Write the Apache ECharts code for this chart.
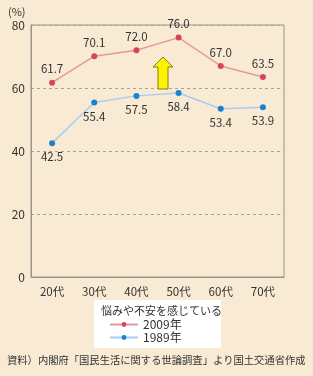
<!DOCTYPE html>
<html><head><meta charset="utf-8">
<script src="https://cdn.jsdelivr.net/npm/echarts@6/dist/echarts.min.js"></script>
<style>html,body{margin:0;padding:0;background:#F8EAD3;}#c{width:313px;height:376px;}</style>
</head><body><div id="c"></div>
<script>
const categories = ['20代','30代','40代','50代','60代','70代'];
const values2009 = [61.7, 70.1, 72.0, 76.0, 67.0, 63.5];
const values1989 = [42.5, 55.4, 57.5, 58.4, 53.4, 53.9];
const yTicks = [0, 20, 40, 60, 80];

const font = '"Noto Sans CJK JP", sans-serif';
const chart = echarts.init(document.getElementById('c'));
chart.setOption({
  backgroundColor: '#F8EAD3',
  animation: false,
  textStyle: { fontFamily: font },
  grid: { left: 31, right: 29, top: 25, bottom: 99, show: true, borderColor: '#9a948c', borderWidth: 1, backgroundColor: 'transparent' },
  xAxis: {
    type: 'category', data: categories, boundaryGap: true,
    axisLine: { lineStyle: { color: '#9a948c', width: 1 } },
    axisTick: { inside: true, length: 3, lineStyle: { color: '#9a948c' } },
    axisLabel: { color: '#333', fontSize: 11.5, fontFamily: font, margin: 9 }
  },
  yAxis: {
    type: 'value', min: yTicks[0], max: yTicks[yTicks.length-1], interval: 20,
    axisLine: { show: true, lineStyle: { color: '#9a948c', width: 1 } },
    axisTick: { show: false },
    axisLabel: { color: '#333', fontSize: 12, fontFamily: font, margin: 6 },
    splitLine: { lineStyle: { color: '#aaa39a', type: [3, 3], width: 1 } }
  },
  legend: {
    orient: 'vertical', left: 109, top: 318, itemWidth: 28, itemHeight: 6, itemGap: 0, padding: 0,
    textStyle: { fontSize: 12, lineHeight: 13, color: '#333', fontFamily: font },
    data: ['2009年', '1989年']
  },
  graphic: [
    { type: 'rect', left: 94, top: 300, shape: { width: 127, height: 48 }, style: { fill: '#ffffff' }, z: -1 },
    { type: 'text', left: 101, top: 305, style: { text: '悩みや不安を感じている', fill: '#333', font: '11px ' + font } },
    { type: 'text', left: 8, top: 6, style: { text: '(%)', fill: '#333', font: '11px ' + font } },
    { type: 'text', left: 7, top: 355, style: { text: '資料）内閣府「国民生活に関する世論調査」より国土交通省作成', fill: '#333', font: '10.3px ' + font } },
    { type: 'polygon', shape: { points: [[158, 89], [168, 89], [168, 67], [173, 67], [163, 57], [153, 67], [158, 67]] },
      style: { fill: '#FFF200', stroke: '#6b6200', lineWidth: 0.8 }, z: 10 }
  ],
  series: [
    { name: '2009年', type: 'line', data: values2009, symbol: 'circle', symbolSize: 6,
      lineStyle: { color: '#E59A9A', width: 1.5 }, itemStyle: { color: '#D6455F' },
      label: { show: true, position: 'top', formatter: p => p.value.toFixed(1), color: '#333', fontSize: 11.5, fontFamily: font, distance: 5 } },
    { name: '1989年', type: 'line', data: values1989, symbol: 'circle', symbolSize: 6,
      lineStyle: { color: '#A8CDF0', width: 1.5 }, itemStyle: { color: '#1A82D4' },
      label: { show: true, position: 'bottom', formatter: p => p.value.toFixed(1), color: '#333', fontSize: 11.5, fontFamily: font, distance: 5 } }
  ]
});
</script></body></html>
